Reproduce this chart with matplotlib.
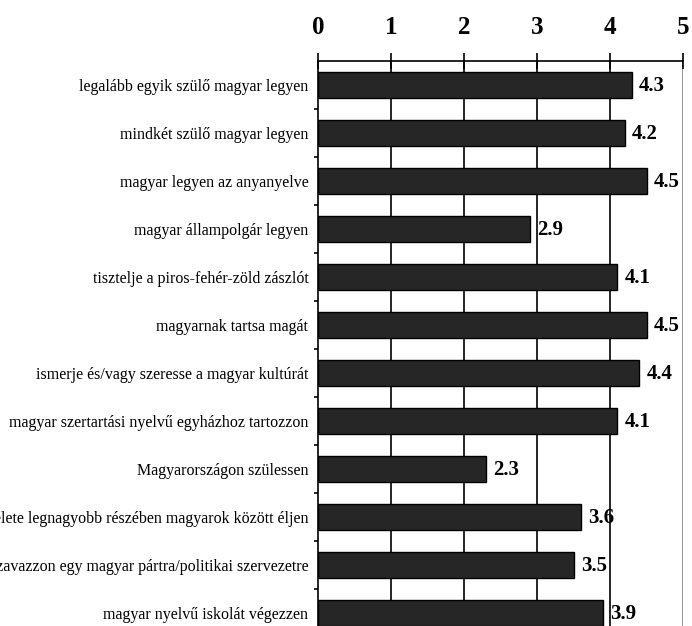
import matplotlib
matplotlib.use("Agg")
import matplotlib.pyplot as plt

categories = [
    "legalább egyik szülő magyar legyen",
    "mindkét szülő magyar legyen",
    "magyar legyen az anyanyelve",
    "magyar állampolgár legyen",
    "tisztelje a piros-fehér-zöld zászlót",
    "magyarnak tartsa magát",
    "ismerje és/vagy szeresse a magyar kultúrát",
    "magyar szertartási nyelvű egyházhoz tartozzon",
    "Magyarországon szülessen",
    "élete legnagyobb részében magyarok között éljen",
    "szavazzon egy magyar pártra/politikai szervezetre",
    "magyar nyelvű iskolát végezzen",
]
values = [4.3, 4.2, 4.5, 2.9, 4.1, 4.5, 4.4, 4.1, 2.3, 3.6, 3.5, 3.9]
xticks = [0, 1, 2, 3, 4, 5]

serif = ["Liberation Serif", "DejaVu Serif"]

fig = plt.figure(figsize=(6.92, 6.26), dpi=100)
W, H = 692, 626
left, right, top, bottom = 318, 683, 61, 637
ax = fig.add_axes([left / W, 1 - bottom / H, (right - left) / W, (bottom - top) / H])

n = len(categories)
ypos = list(range(n))
ax.barh(ypos, values, height=0.54, color="#262626", edgecolor="black", linewidth=1.0, zorder=3)

ax.set_xlim(0, 5)
ax.set_ylim(n - 0.5, -0.5)

for x in xticks[1:-1]:
    ax.axvline(x, color="black", linewidth=1.2, zorder=1)
ax.axvline(5, color="#8a8a8a", linewidth=2.0, zorder=1)

ax.xaxis.tick_top()
ax.set_xticks(xticks)
ax.set_xticklabels([str(t) for t in xticks], fontfamily=serif, fontweight="bold", fontsize=18)
ax.tick_params(axis="x", direction="inout", length=11.5, width=1.2, pad=10, colors="black")

ax.set_yticks(ypos)
ax.set_yticklabels(categories, fontfamily=serif, fontsize=11.5)
ax.tick_params(axis="y", length=0, pad=7)
ax.set_yticks([i + 0.5 for i in range(n - 1)], minor=True)
ax.tick_params(axis="y", which="minor", length=3, width=1.2, direction="out")

for s in ["right", "bottom"]:
    ax.spines[s].set_visible(False)
ax.spines["top"].set_linewidth(1.2)
ax.spines["left"].set_linewidth(1.2)
ax.spines["top"].set_zorder(4)

for y, v in zip(ypos, values):
    ax.text(v + 0.1, y + 0.03, f"{v:.1f}", va="center", ha="left", fontfamily=serif,
            fontweight="bold", fontsize=15, zorder=5)

fig.savefig("out.png", dpi=100)
